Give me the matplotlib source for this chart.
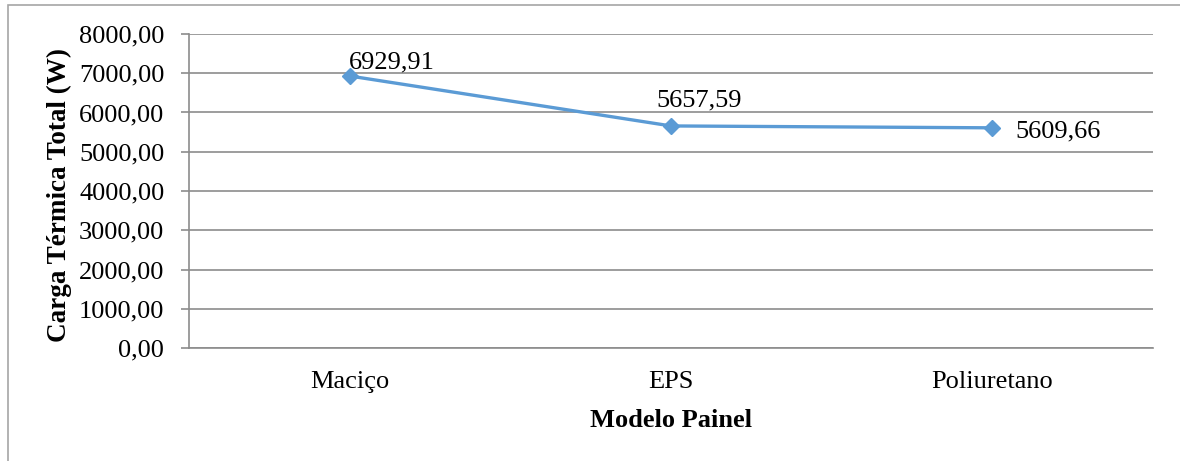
import matplotlib.pyplot as plt
from matplotlib.patches import Rectangle
from matplotlib.ticker import FuncFormatter

# painel models and total thermal load (W)
modelos = ['Maciço', 'EPS', 'Poliuretano']
carga = [6929.91, 5657.59, 5609.66]
y_ticks = [0, 1000, 2000, 3000, 4000, 5000, 6000, 7000, 8000]

plt.rcParams['font.family'] = ['Liberation Serif', 'DejaVu Serif']

azul = '#5B9BD5'
cinza = '#8C8C8C'
fs = 19


def virgula(v, pos=None):
    return ('%.2f' % v).replace('.', ',')


fig = plt.figure(figsize=(11.8, 4.61), dpi=100)
ax = fig.add_axes([189 / 1180, 1 - 348 / 461, 964 / 1180, 314 / 461])

x = list(range(len(modelos)))
ax.plot(x, carga, color=azul, lw=2.4, marker='D', ms=8.5, zorder=3)

ax.set_xlim(-0.5, len(modelos) - 0.5)
ax.set_ylim(0, 8000)
ax.set_yticks(y_ticks)
ax.yaxis.set_major_formatter(FuncFormatter(virgula))
ax.set_xticks(x)
ax.set_xticklabels(modelos)
ax.grid(axis='y', color=cinza, lw=1.2)
ax.set_axisbelow(True)

for s in ['top', 'right']:
    ax.spines[s].set_visible(False)
for s in ['left', 'bottom']:
    ax.spines[s].set_color(cinza)
    ax.spines[s].set_linewidth(1.2)

ax.tick_params(axis='y', length=5.8, width=1.2, color=cinza, labelsize=fs, pad=12)
ax.tick_params(axis='x', length=0, labelsize=fs, pad=16.5)

ax.set_ylabel('Carga Térmica Total (W)', fontsize=19.5, fontweight='bold')
ax.yaxis.set_label_coords(-0.1214, 0.487)
ax.set_xlabel('Modelo Painel', fontsize=fs, fontweight='bold')
ax.xaxis.set_label_coords(0.5, -0.195)

# data labels, offsets in pixels from each point
offsets = [(-1, 8), (-15, 19), (23, -10)]
for xi, v, (dx, dy) in zip(x, carga, offsets):
    ax.annotate(virgula(v), (xi, v), xytext=(dx, dy), textcoords='offset pixels',
                ha='left', va='baseline', fontsize=fs)

# outer chart frame
fig.patches.append(Rectangle((8 / 1180, -0.1), 1.2, 1 - 5 / 461 + 0.1,
                             transform=fig.transFigure, fill=False,
                             edgecolor='#A6A6A6', lw=1.2))

fig.savefig('out.png', dpi=100)
